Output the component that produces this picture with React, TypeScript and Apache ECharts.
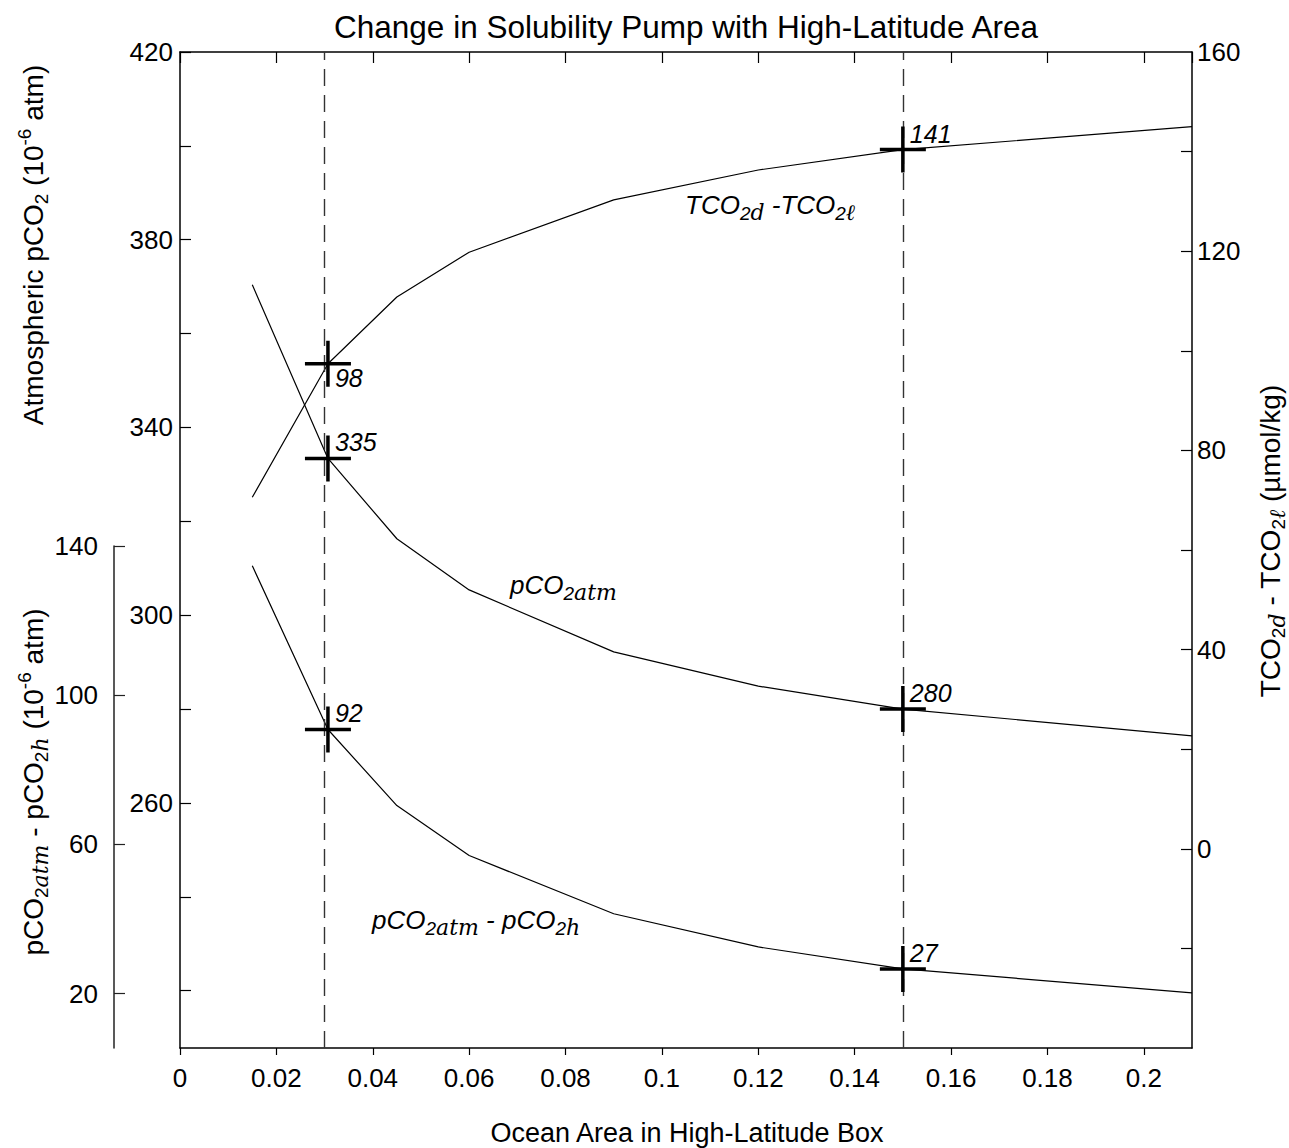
import React, { useEffect, useRef } from "react";
import * as echarts from "echarts";

// ---- data ----
const areas = [0.015, 0.0307, 0.045, 0.06, 0.09, 0.12, 0.15, 0.21];
const tco2Diff = [70.6, 97.4, 110.8, 119.8, 130.3, 136.3, 140.4, 145.0];
const pco2Atm = [370.4, 333.4, 316.3, 305.4, 292.2, 284.9, 280.0, 274.3];
const pco2Diff = [134.7, 90.8, 70.4, 57.0, 41.4, 32.5, 26.6, 20.2];

const markerIdx = [1, 6];
const tco2Labels = ["98", "141"];
const atmLabels = ["335", "280"];
const diffLabels = ["92", "27"];
const dashedAreas = [0.0307, 0.15];

const leftTicks = [220, 240, 260, 280, 300, 320, 340, 360, 380, 400, 420];
const leftLabels = [260, 300, 340, 380, 420];
const rightTicks = [-20, 0, 20, 40, 60, 80, 100, 120, 140];
const rightLabels = [0, 40, 80, 120, 160];
const lowTicks = [20, 60, 100, 140];

const FONT = "'Liberation Sans', Arial, Helvetica, sans-serif";
const SCRIPT = "'DejaVu Serif', serif";

const PLUS =
  "path://M21.25,0h3.5v21.25h21.25v3.5h-21.25v21.25h-3.5v-21.25h-21.25v-3.5h21.25z";

export default function App() {
  const ref = useRef<HTMLDivElement>(null);
  useEffect(() => {
    document.body.style.margin = "0";
    const chart = echarts.init(ref.current!, null, { renderer: "svg" });

    const tickLabelStyle = { color: "#000", fontSize: 26, fontFamily: FONT };
    const axisLine = { show: true, onZero: false, lineStyle: { color: "#000", width: 1.5 } };

    const richTitle: any = {
      n: { fontSize: 28, fontFamily: FONT, color: "#000", lineHeight: 36 },
      b: { fontSize: 19, fontFamily: FONT, color: "#000", verticalAlign: "bottom", lineHeight: 20 },
      p: { fontSize: 19, fontFamily: FONT, color: "#000", verticalAlign: "top", lineHeight: 20 },
      sc: { fontSize: 22, fontFamily: SCRIPT, fontStyle: "italic", color: "#000", verticalAlign: "bottom", lineHeight: 22 },
    };
    const richItalic: any = {
      n: { fontSize: 26, fontFamily: FONT, fontStyle: "italic", color: "#000", lineHeight: 36 },
      b: { fontSize: 19, fontFamily: FONT, fontStyle: "italic", color: "#000", verticalAlign: "bottom", lineHeight: 20 },
      sc: { fontSize: 22, fontFamily: SCRIPT, fontStyle: "italic", color: "#000", verticalAlign: "bottom", lineHeight: 22 },
    };

    const txt = (x: number, y: number, text: string, rich: any, rotation = 0, align = "center") => ({
      type: "text",
      x,
      y,
      rotation,
      style: {
        text,
        rich,
        align,
        textAlign: align,
        verticalAlign: "middle",
        textVerticalAlign: "middle",
        fill: "#000",
      },
    });

    const pairs = (ys: number[]) => areas.map((a, i) => [a, ys[i]]);
    const markers = (ys: number[], labels: string[], below: number[]) =>
      markerIdx.map((idx, k) => ({
        value: [areas[idx], ys[idx]],
        label: {
          show: true,
          formatter: labels[k],
          position: below.includes(k) ? [30, 37] : [30, 7],
          align: "left",
          verticalAlign: "middle",
          fontSize: 25,
          fontStyle: "italic",
          fontFamily: FONT,
          color: "#000",
        },
      }));

    const lineStyle = { color: "#000", width: 1.2 };
    const scatterBase = {
      type: "scatter",
      symbol: PLUS,
      symbolSize: 46,
      itemStyle: { color: "#000", opacity: 1 },
      emphasis: { disabled: true },
      z: 5,
    };

    const option: any = {
      animation: false,
      backgroundColor: "#fff",
      grid: [
        { left: 180, right: 97, top: 52, bottom: 100, containLabel: false },
        { left: 180, right: 97, top: 546, bottom: 100, containLabel: false },
      ],
      xAxis: [
        {
          type: "value",
          gridIndex: 0,
          position: "bottom",
          min: 0,
          max: 0.21,
          interval: 0.02,
          axisLine,
          axisTick: { show: true, inside: false, length: 7, lineStyle: { color: "#000", width: 1.2 } },
          axisLabel: { ...tickLabelStyle, margin: 17, showMaxLabel: false },
          splitLine: { show: false },
        },
        {
          type: "value",
          gridIndex: 0,
          position: "top",
          min: 0,
          max: 0.21,
          interval: 0.02,
          axisLine,
          axisTick: { show: true, inside: true, length: 11, lineStyle: { color: "#000", width: 1.2 } },
          axisLabel: { show: false },
          splitLine: { show: false },
        },
        {
          type: "value",
          gridIndex: 1,
          show: false,
          min: 0,
          max: 0.21,
          axisLine: { onZero: false },
        },
      ],
      yAxis: [
        {
          type: "value",
          gridIndex: 0,
          position: "left",
          min: 207.8,
          max: 420,
          axisLine,
          axisTick: { show: true, inside: true, length: 11, customValues: leftTicks, lineStyle: { color: "#000", width: 1.2 } },
          axisLabel: { ...tickLabelStyle, margin: 7, customValues: leftLabels },
          splitLine: { show: false },
        },
        {
          type: "value",
          gridIndex: 0,
          position: "right",
          min: -40,
          max: 160,
          interval: 20,
          axisLine,
          axisTick: { show: true, inside: true, length: 11, customValues: rightTicks, lineStyle: { color: "#000", width: 1.2 } },
          axisLabel: { ...tickLabelStyle, margin: 5, customValues: rightLabels },
          splitLine: { show: false },
        },
        {
          type: "value",
          gridIndex: 1,
          position: "left",
          offset: 66,
          min: 5.4,
          max: 140,
          axisLine: { show: true, onZero: false, lineStyle: { color: "#222", width: 1.5 } },
          axisTick: { show: true, inside: true, length: 11, customValues: lowTicks, lineStyle: { color: "#222", width: 1.2 } },
          axisLabel: { ...tickLabelStyle, margin: 16, customValues: lowTicks },
          splitLine: { show: false },
        },
      ],
      series: [
        {
          type: "line",
          xAxisIndex: 0,
          yAxisIndex: 1,
          data: pairs(tco2Diff),
          symbol: "none",
          lineStyle,
          z: 2,
          markLine: {
            silent: true,
            symbol: ["none", "none"],
            label: { show: false },
            lineStyle: { color: "#333", width: 1.4, type: [17, 9] },
            data: dashedAreas.map((a) => ({ xAxis: a })),
          },
        },
        {
          type: "line",
          xAxisIndex: 0,
          yAxisIndex: 0,
          data: pairs(pco2Atm),
          symbol: "none",
          lineStyle,
          z: 2,
        },
        {
          type: "line",
          xAxisIndex: 2,
          yAxisIndex: 2,
          data: pairs(pco2Diff),
          symbol: "none",
          lineStyle,
          z: 2,
        },
        { ...scatterBase, xAxisIndex: 0, yAxisIndex: 1, data: markers(tco2Diff, tco2Labels, [0]) },
        { ...scatterBase, xAxisIndex: 0, yAxisIndex: 0, data: markers(pco2Atm, atmLabels, []) },
        { ...scatterBase, xAxisIndex: 2, yAxisIndex: 2, data: markers(pco2Diff, diffLabels, []) },
      ],
      graphic: [
        {
          type: "text",
          x: 686,
          y: 27,
          style: {
            text: "Change in Solubility Pump with High-Latitude Area",
            fontSize: 31.5,
            fontFamily: FONT,
            fill: "#000",
            align: "center",
            textAlign: "center",
            verticalAlign: "middle",
            textVerticalAlign: "middle",
          },
        },
        {
          type: "text",
          x: 687,
          y: 1133,
          style: {
            text: "Ocean Area in High-Latitude Box",
            fontSize: 27,
            fontFamily: FONT,
            fill: "#000",
            align: "center",
            textAlign: "center",
            verticalAlign: "middle",
            textVerticalAlign: "middle",
          },
        },
        txt(33, 245, "{n|Atmospheric pCO}{b|2}{n| (10}{p|-6}{n| atm)}", richTitle, Math.PI / 2),
        txt(33, 782, "{n|pCO}{b|2}{sc|atm}{n| - pCO}{b|2}{sc|h}{n| (10}{p|-6}{n| atm)}", richTitle, Math.PI / 2),
        txt(1270, 541, "{n|TCO}{b|2}{sc|d}{n| - TCO}{b|2}{sc|ℓ}{n| (µmol/kg)}", richTitle, Math.PI / 2),
        txt(685, 205, "{n|TCO}{b|2}{sc|d}{n| -TCO}{b|2}{sc|ℓ}", richItalic, 0, "left"),
        txt(510, 585, "{n|pCO}{b|2}{sc|atm}", richItalic, 0, "left"),
        txt(372, 920, "{n|pCO}{b|2}{sc|atm}{n| - pCO}{b|2}{sc|h}", richItalic, 0, "left"),
      ],
    };

    chart.setOption(option);
    return () => chart.dispose();
  }, []);

  return <div ref={ref} style={{ width: 1289, height: 1148 }} />;
}
